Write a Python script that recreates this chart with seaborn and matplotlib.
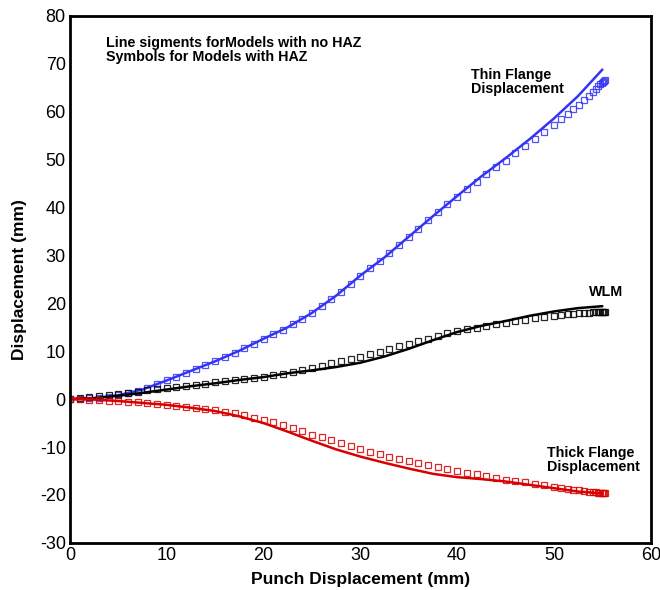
import matplotlib
matplotlib.use("Agg")
import matplotlib.pyplot as plt
import seaborn as sns
import pandas as pd
from matplotlib.ticker import MultipleLocator

# ---- data: lines (models without HAZ) ----
line_x = [0, 2.5, 5, 7.5, 10, 12.5, 15, 17.5, 20, 22.5, 25, 27.5, 30, 32.5, 35,
          37.5, 40, 42.5, 45, 47.5, 50, 52.5, 55]
thin_line = [0, 0.2, 0.8, 2.0, 3.9, 5.9, 7.9, 10.1, 12.6, 15.0, 18.0, 21.6, 25.8,
             29.6, 33.9, 38.2, 42.4, 46.5, 50.3, 54.3, 58.6, 63.3, 68.8]
wlm_line = [0, 0.2, 0.7, 1.3, 2.0, 2.7, 3.3, 4.0, 4.6, 5.4, 6.0, 6.7, 7.6, 8.9,
            10.5, 12.3, 14.0, 15.3, 16.3, 17.4, 18.3, 19.0, 19.4]
thick_line = [0, -0.1, -0.4, -0.8, -1.2, -1.8, -2.5, -3.6, -5.0, -6.8, -8.7, -10.5,
              -12.0, -13.3, -14.5, -15.6, -16.3, -16.7, -17.2, -17.9, -18.6, -19.3, -19.7]

# ---- data: symbols (models with HAZ) ----
sym_x = [0, 1, 2, 3, 4, 5, 6, 7, 8, 9, 10, 11, 12, 13, 14, 15, 16, 17, 18, 19, 20,
         21, 22, 23, 24, 25, 26, 27, 28, 29, 30, 31, 32, 33, 34, 35, 36, 37, 38, 39,
         40, 41, 42, 43, 44, 45, 46, 47, 48, 49, 50, 50.7, 51.4, 52.0, 52.6, 53.1,
         53.6, 54.0, 54.3, 54.6, 54.8, 55.0, 55.1, 55.2, 55.3]
thin_sym = [0, 0.05, 0.15, 0.3, 0.5, 0.8, 1.2, 1.7, 2.3, 3.1, 3.9, 4.7, 5.5, 6.3,
            7.1, 7.9, 8.8, 9.6, 10.6, 11.6, 12.6, 13.6, 14.5, 15.6, 16.8, 18.0, 19.4,
            20.9, 22.4, 24.1, 25.8, 27.3, 28.8, 30.5, 32.2, 33.9, 35.6, 37.3, 39.0,
            40.7, 42.3, 43.8, 45.4, 46.9, 48.4, 49.8, 51.3, 52.8, 54.3, 55.8, 57.3,
            58.4, 59.5, 60.5, 61.5, 62.4, 63.3, 64.1, 64.7, 65.3, 65.7, 66.1, 66.3,
            66.5, 66.7]
wlm_sym = [0, 0.15, 0.35, 0.55, 0.8, 1.0, 1.3, 1.55, 1.8, 2.05, 2.3, 2.55, 2.8, 3.0,
           3.25, 3.5, 3.75, 4.0, 4.2, 4.45, 4.7, 5.0, 5.3, 5.7, 6.1, 6.5, 7.0, 7.5,
           7.9, 8.4, 8.8, 9.4, 9.9, 10.5, 11.0, 11.6, 12.1, 12.6, 13.2, 13.7, 14.2,
           14.6, 14.9, 15.3, 15.6, 15.9, 16.3, 16.6, 17.0, 17.2, 17.4, 17.55, 17.7,
           17.8, 17.9, 18.0, 18.05, 18.1, 18.15, 18.15, 18.2, 18.2, 18.2, 18.2, 18.2]
thick_sym = [0, -0.05, -0.1, -0.2, -0.3, -0.4, -0.55, -0.7, -0.85, -1.0, -1.2, -1.4,
             -1.6, -1.8, -2.05, -2.3, -2.65, -3.0, -3.4, -3.85, -4.3, -4.85, -5.4,
             -6.0, -6.7, -7.4, -8.0, -8.6, -9.2, -9.8, -10.4, -11.0, -11.5, -12.1,
             -12.6, -13.0, -13.4, -13.8, -14.2, -14.6, -15.0, -15.4, -15.7, -16.1,
             -16.4, -16.8, -17.1, -17.4, -17.7, -18.0, -18.3, -18.5, -18.7, -18.9,
             -19.0, -19.15, -19.3, -19.4, -19.45, -19.5, -19.55, -19.6, -19.6,
             -19.65, -19.7]

x_ticks = [0, 10, 20, 30, 40, 50, 60]
y_ticks = [-30, -20, -10, 0, 10, 20, 30, 40, 50, 60, 70, 80]

BLUE = "#3434f5"
BLACK = "#000000"
RED = "#d80000"

sns.set_style("white")
plt.rcParams["font.family"] = ["Liberation Sans", "DejaVu Sans"]
plt.rcParams["axes.unicode_minus"] = False
plt.rcParams["text.color"] = "black"
plt.rcParams["axes.labelcolor"] = "black"
plt.rcParams["xtick.color"] = "black"
plt.rcParams["ytick.color"] = "black"

fig = plt.figure(figsize=(6.6, 5.9), dpi=100)
ax = fig.add_axes([0.106, 0.080, 0.880, 0.893])

lines_df = pd.DataFrame({"x": line_x, "thin": thin_line, "wlm": wlm_line, "thick": thick_line})
sym_df = pd.DataFrame({"x": sym_x, "thin": thin_sym, "wlm": wlm_sym, "thick": thick_sym})

for col, c in [("thin", BLUE), ("wlm", BLACK), ("thick", RED)]:
    sns.lineplot(data=sym_df, x="x", y=col, ax=ax, estimator=None, sort=False,
                 linestyle="", marker="s", markersize=4.2, markerfacecolor="none",
                 markeredgecolor=c, markeredgewidth=0.9, color=c, alpha=0.85)
    sns.lineplot(data=lines_df, x="x", y=col, ax=ax, estimator=None, sort=False,
                 color=c, linewidth=1.8)

ax.set_xlim(0, 60)
ax.set_ylim(-30, 80)
ax.set_xticks(x_ticks)
ax.set_yticks(y_ticks)
ax.xaxis.set_minor_locator(MultipleLocator(2))
ax.yaxis.set_minor_locator(MultipleLocator(2))
ax.tick_params(which="major", direction="in", length=8, width=1.8, labelsize=13,
               top=False, right=False, pad=3, colors="black")
ax.tick_params(which="minor", direction="in", length=4, width=1.0, top=False, right=False)
for s in ax.spines.values():
    s.set_linewidth(2.0)
    s.set_color("black")

ax.set_xlabel("Punch Displacement (mm)", fontsize=12.5, fontweight="bold", labelpad=6)
ax.set_ylabel("Displacement (mm)", fontsize=12.5, fontweight="bold", labelpad=9)

tkw = dict(fontsize=10.3, fontweight="bold", va="top", ha="left", linespacing=1.0,
           color="black")
ax.text(3.7, 75.8, "Line sigments forModels with no HAZ\nSymbols for Models with HAZ", **tkw)
ax.text(41.4, 69.1, "Thin Flange\nDisplacement", **tkw)
ax.text(53.6, 23.8, "WLM", **tkw)
ax.text(49.3, -9.7, "Thick Flange\nDisplacement", **tkw)

fig.savefig("out.png", dpi=100)
